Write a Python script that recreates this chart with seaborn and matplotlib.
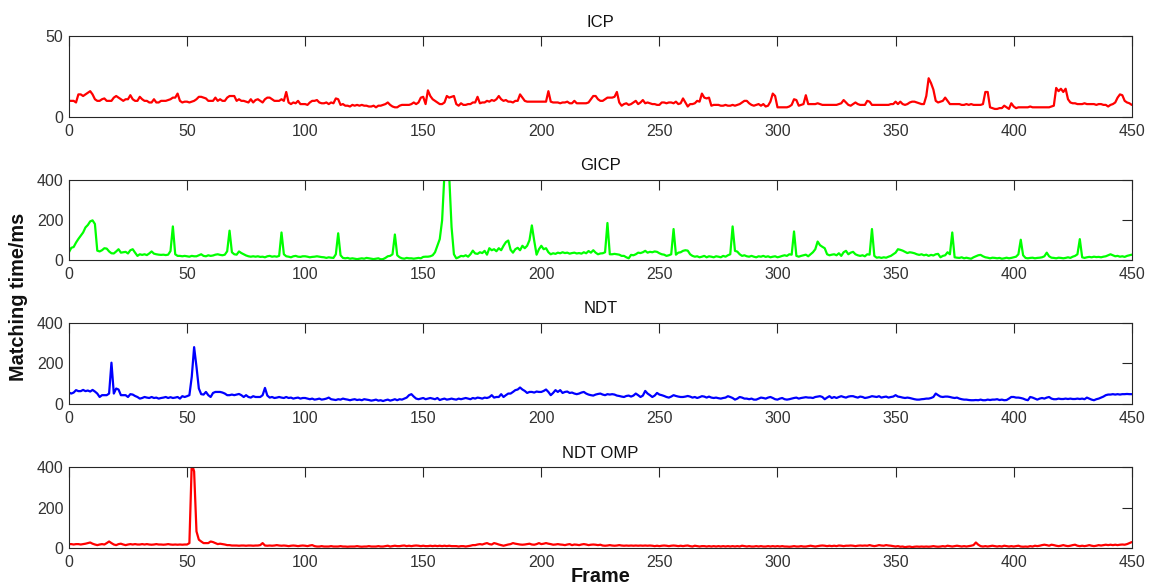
import pandas as pd
import seaborn as sns
import matplotlib.pyplot as plt

# matching time per frame (ms)
icp = [
    10, 10, 10, 9, 14, 14, 13, 14, 15, 16,
    14, 11, 10, 10, 11, 11.5, 10, 10, 10, 12,
    13, 12, 11, 10, 11, 11, 13.5, 11, 10, 10,
    12.5, 11, 10, 10, 9, 9, 11, 9, 9, 10,
    10, 10, 10.5, 11, 12, 12, 14.5, 10, 9, 9.5,
    9.5, 9, 9.5, 10, 11, 12.5, 12.5, 12, 11.5, 10,
    10, 10, 12, 10, 11, 10, 10, 12, 13, 13,
    13, 10, 11, 10, 10, 9.5, 9, 11, 9, 10.5,
    11, 10, 9, 11, 12, 12, 11, 10, 10, 10,
    11, 10, 15.5, 9, 8, 9, 8.5, 10, 8, 8,
    8, 7.5, 9, 10, 10, 10.5, 9, 8.5, 8.5, 9,
    8, 9, 8.5, 11.5, 11, 7.5, 8, 7, 7, 6.5,
    7.5, 7, 7.5, 7, 7.5, 7, 7, 6.5, 6.5, 7,
    6, 7, 7, 7.5, 8, 9, 7.5, 6.5, 6, 6,
    7, 7.5, 7.5, 7.5, 7.5, 8, 9, 8, 9, 12,
    12.5, 8, 16.5, 13, 11, 10, 9, 8, 8, 9,
    13, 12, 12.5, 13, 8, 7, 8.5, 7.5, 7.5, 8,
    8, 9, 9, 12.5, 8.5, 9, 9, 10, 9.5, 10.5,
    10, 11, 13, 11, 10, 10.5, 9.5, 9.5, 9, 10,
    10, 14, 12, 10, 9.5, 9.5, 9.5, 9.5, 9.5, 9.5,
    9.5, 9.5, 9.5, 16, 9.5, 9, 9, 9, 8.5, 9,
    9, 9.5, 8.5, 8.5, 10, 8.5, 8.5, 8.5, 8.5, 8.5,
    9, 11, 13, 13, 11, 10, 10, 11, 12, 12,
    12, 12.5, 15.5, 9, 7, 8, 8.5, 7.5, 8, 9,
    10, 8, 9, 10.5, 8.5, 9, 8.5, 8, 8, 7.5,
    7.5, 9, 9, 8.5, 9, 9, 8.5, 9.5, 8, 8.5,
    11.5, 9, 6.5, 8, 8, 8.5, 10, 9.5, 14.5, 12,
    11.5, 12, 7, 7.5, 7.5, 7.5, 7, 7, 7.5, 7,
    7, 7.5, 7, 7.5, 8, 9, 10, 10, 8.5, 7.5,
    7, 7.5, 8, 7, 8, 6.5, 7, 9.5, 14.5, 13,
    6, 6, 6, 6, 6, 6.5, 7.5, 11, 10.5, 7,
    7.5, 8, 13.5, 8, 8, 8, 8, 8.5, 8, 7.5,
    7.5, 7.5, 7.5, 7.5, 7.5, 7.5, 8, 8.5, 10.5, 9,
    7.5, 7, 8, 9, 8, 7.5, 7.5, 7.5, 10, 9.5,
    7.5, 7.5, 7.5, 7.5, 7.5, 7.5, 7.5, 7.5, 8, 8,
    9.5, 8, 9.5, 8, 7.5, 8, 9, 9.5, 9.5, 9,
    8.5, 8, 8, 13, 24, 21, 17, 10, 9, 9.5,
    10, 12, 10, 8, 8, 8, 8, 8, 7.5, 7.5,
    8, 7.5, 8, 7.5, 7.5, 7.5, 7.5, 8, 15.5, 15.5,
    6, 5.5, 5, 5, 5.5, 5.5, 7, 6, 5, 8.5,
    6.5, 5.5, 6, 6, 6, 6, 6, 6.5, 6, 6,
    6, 6, 6, 6, 6, 6, 6.5, 7, 18, 16,
    17.5, 15.5, 17.5, 11, 9, 8.5, 8.5, 8, 8, 8,
    8.5, 8, 8, 8, 8, 7.5, 8, 8, 7.5, 7.5,
    6.5, 7.5, 8, 9, 12, 14, 13.5, 10, 9, 8.5,
    7.5,
]

gicp = [
    40, 62, 66, 88, 106, 122, 138, 163, 175, 193,
    198, 180, 48, 44, 50, 60, 58, 44, 35, 34,
    44, 55, 38, 40, 42, 34, 50, 55, 38, 22,
    30, 27, 30, 26, 34, 44, 33, 30, 28, 27,
    28, 26, 28, 46, 168, 30, 22, 22, 20, 22,
    20, 18, 22, 20, 20, 25, 30, 22, 20, 25,
    22, 24, 28, 30, 27, 25, 28, 45, 147, 40,
    30, 28, 44, 36, 30, 24, 20, 18, 20, 18,
    20, 17, 18, 15, 20, 22, 18, 20, 18, 22,
    138, 30, 20, 18, 15, 20, 22, 18, 17, 20,
    20, 18, 15, 17, 18, 20, 18, 16, 15, 12,
    15, 13, 12, 30, 134, 25, 12, 10, 12, 8,
    10, 8, 6, 8, 10, 8, 12, 10, 8, 6,
    8, 10, 5, 6, 12, 20, 22, 30, 128, 25,
    15, 10, 8, 12, 10, 10, 8, 10, 12, 10,
    17, 18, 18, 20, 25, 40, 72, 105, 198, 430,
    440, 420, 165, 30, 10, 15, 22, 20, 25, 18,
    30, 48, 34, 32, 40, 36, 47, 28, 60, 50,
    55, 45, 60, 50, 72, 90, 98, 52, 38, 55,
    62, 50, 72, 60, 72, 100, 173, 97, 28, 55,
    72, 55, 60, 40, 30, 35, 32, 38, 35, 40,
    36, 38, 33, 36, 38, 34, 36, 33, 40, 35,
    46, 38, 50, 38, 30, 34, 35, 40, 185, 30,
    30, 32, 30, 28, 22, 22, 15, 10, 27, 25,
    30, 38, 36, 40, 47, 38, 42, 40, 44, 42,
    35, 30, 28, 22, 25, 30, 155, 28, 38, 40,
    47, 50, 48, 30, 22, 18, 20, 15, 18, 22,
    15, 20, 18, 15, 20, 18, 15, 22, 18, 25,
    30, 168, 47, 43, 30, 22, 25, 20, 18, 22,
    18, 15, 20, 18, 22, 17, 20, 15, 18, 20,
    15, 18, 22, 25, 22, 30, 28, 143, 22, 18,
    22, 25, 28, 20, 30, 40, 55, 93, 75, 67,
    60, 30, 25, 28, 30, 25, 35, 22, 40, 47,
    30, 38, 42, 30, 25, 22, 25, 20, 30, 28,
    155, 22, 13, 15, 12, 15, 13, 18, 22, 30,
    38, 55, 52, 48, 42, 36, 40, 38, 35, 30,
    27, 30, 25, 28, 22, 27, 24, 30, 32, 15,
    22, 25, 40, 30, 138, 15, 13, 12, 15, 10,
    13, 10, 8, 15, 20, 25, 27, 20, 15, 13,
    10, 13, 12, 10, 12, 8, 10, 13, 10, 12,
    15, 18, 30, 102, 25, 12, 10, 12, 13, 10,
    12, 13, 15, 20, 38, 20, 13, 12, 10, 13,
    12, 10, 12, 15, 12, 18, 22, 30, 105, 15,
    12, 15, 17, 15, 18, 16, 17, 15, 18, 20,
    25, 30, 25, 20, 22, 18, 20, 17, 22, 25,
    28,
]

ndt = [
    55, 50, 55, 67, 62, 62, 68, 62, 65, 60,
    68, 60, 50, 33, 42, 42, 42, 50, 203, 50,
    75, 70, 42, 42, 42, 33, 47, 45, 38, 33,
    25, 28, 33, 30, 28, 33, 28, 30, 25, 28,
    30, 33, 28, 32, 28, 30, 33, 25, 37, 33,
    37, 42, 133, 280, 183, 75, 47, 45, 58, 42,
    33, 53, 58, 58, 58, 55, 50, 42, 42, 45,
    42, 45, 48, 42, 33, 42, 33, 30, 37, 33,
    33, 33, 42, 78, 40, 30, 33, 28, 30, 33,
    30, 28, 33, 28, 30, 25, 28, 30, 25, 28,
    28, 25, 22, 25, 20, 22, 25, 20, 22, 25,
    30, 22, 20, 18, 22, 20, 25, 22, 20, 17,
    20, 22, 18, 20, 17, 22, 20, 18, 15, 17,
    20, 15, 17, 13, 17, 20, 15, 18, 22, 17,
    22, 20, 25, 30, 42, 47, 35, 25, 22, 25,
    28, 22, 25, 28, 25, 22, 28, 18, 22, 25,
    20, 22, 25, 22, 20, 25, 22, 25, 28, 25,
    22, 28, 25, 30, 28, 25, 30, 28, 32, 42,
    30, 33, 33, 47, 33, 42, 50, 50, 58, 67,
    70, 80, 70, 63, 53, 58, 58, 55, 60, 58,
    58, 63, 70, 58, 42, 53, 67, 58, 67, 53,
    58, 60, 53, 55, 50, 47, 50, 55, 58, 50,
    45, 42, 40, 45, 48, 50, 45, 42, 47, 45,
    47, 45, 40, 38, 35, 33, 38, 40, 35, 40,
    50, 42, 33, 40, 63, 50, 42, 33, 40, 53,
    45, 42, 38, 33, 30, 35, 42, 38, 35, 33,
    33, 35, 38, 35, 30, 33, 28, 32, 37, 35,
    30, 35, 30, 28, 30, 27, 25, 28, 30, 37,
    33, 28, 20, 25, 33, 30, 25, 25, 22, 25,
    20, 20, 25, 30, 28, 25, 30, 33, 28, 22,
    20, 25, 28, 22, 20, 22, 25, 28, 30, 25,
    28, 30, 32, 30, 30, 28, 33, 35, 37, 33,
    22, 30, 37, 28, 33, 28, 33, 37, 33, 30,
    35, 37, 37, 33, 30, 35, 33, 28, 30, 33,
    37, 35, 33, 37, 30, 33, 35, 30, 33, 35,
    42, 35, 33, 30, 28, 30, 28, 25, 22, 20,
    20, 22, 23, 25, 25, 28, 33, 50, 42, 35,
    33, 35, 35, 33, 30, 28, 30, 25, 22, 20,
    20, 18, 17, 17, 18, 17, 20, 17, 17, 20,
    18, 20, 20, 22, 18, 20, 17, 18, 25, 33,
    33, 30, 30, 28, 25, 20, 17, 33, 30, 25,
    20, 25, 28, 25, 30, 33, 25, 22, 22, 25,
    23, 23, 25, 23, 25, 23, 23, 25, 23, 25,
    22, 30, 25, 20, 17, 22, 25, 30, 35, 42,
    45, 45, 47, 45, 47, 45, 47, 47, 48, 47,
    47,
]

ndt_omp = [
    20, 20, 18, 20, 20, 18, 20, 22, 25, 28,
    22, 18, 15, 18, 20, 18, 25, 33, 25, 18,
    15, 20, 22, 18, 15, 18, 20, 18, 20, 18,
    18, 20, 18, 20, 18, 17, 18, 20, 18, 18,
    17, 18, 20, 18, 17, 18, 17, 18, 17, 18,
    18, 25, 420, 380, 83, 42, 33, 25, 25, 25,
    33, 30, 25, 20, 22, 20, 18, 15, 15, 13,
    13, 13, 12, 13, 13, 12, 13, 13, 12, 13,
    13, 15, 25, 13, 12, 13, 12, 13, 15, 13,
    12, 13, 12, 10, 12, 13, 12, 10, 12, 13,
    12, 10, 13, 15, 10, 8, 8, 10, 8, 8,
    8, 10, 8, 8, 8, 10, 8, 8, 7, 8,
    8, 8, 10, 8, 7, 8, 8, 10, 8, 8,
    8, 10, 8, 8, 10, 12, 8, 10, 12, 10,
    10, 12, 13, 10, 12, 10, 12, 13, 12, 10,
    12, 10, 10, 12, 10, 12, 10, 12, 10, 12,
    10, 12, 10, 10, 10, 8, 10, 10, 8, 10,
    12, 15, 15, 18, 20, 18, 22, 25, 20, 18,
    25, 22, 18, 15, 12, 15, 18, 20, 25, 22,
    20, 18, 17, 18, 20, 22, 18, 17, 20, 25,
    20, 22, 25, 22, 20, 17, 18, 20, 18, 17,
    15, 18, 20, 15, 18, 17, 15, 18, 20, 18,
    15, 17, 18, 17, 15, 17, 13, 12, 13, 15,
    13, 12, 13, 15, 13, 12, 13, 12, 13, 12,
    13, 12, 13, 12, 13, 12, 13, 12, 10, 12,
    10, 12, 13, 12, 10, 12, 13, 12, 10, 12,
    10, 12, 13, 10, 8, 12, 10, 8, 10, 10,
    8, 10, 8, 10, 8, 10, 8, 10, 8, 10,
    8, 10, 8, 10, 8, 12, 10, 8, 10, 8,
    8, 10, 8, 10, 8, 8, 10, 8, 10, 8,
    10, 8, 10, 8, 8, 7, 8, 10, 8, 8,
    10, 8, 8, 10, 12, 10, 8, 10, 12, 13,
    12, 10, 12, 10, 12, 10, 13, 12, 10, 12,
    12, 13, 12, 10, 12, 13, 12, 13, 12, 15,
    12, 10, 12, 15, 13, 12, 15, 13, 12, 10,
    8, 10, 7, 8, 5, 7, 8, 5, 7, 8,
    7, 8, 7, 8, 7, 8, 10, 8, 7, 8,
    10, 8, 12, 10, 8, 10, 12, 10, 8, 10,
    8, 10, 12, 15, 28, 17, 10, 8, 10, 8,
    10, 12, 10, 8, 10, 8, 12, 10, 8, 10,
    8, 10, 12, 8, 7, 8, 7, 10, 8, 12,
    10, 12, 15, 17, 15, 12, 17, 15, 12, 10,
    12, 15, 12, 10, 12, 15, 17, 12, 10, 12,
    10, 12, 15, 12, 10, 12, 15, 13, 15, 17,
    15, 17, 15, 17, 15, 17, 18, 17, 20, 25,
    30,
]

frames = list(range(451))
titles = ["ICP", "GICP", "NDT", "NDT OMP"]
colors = ["#ff0000", "#00ff00", "#0000ff", "#ff0000"]
ylims = [(0, 50), (0, 400), (0, 400), (0, 400)]
yticks = [[0, 50], [0, 200, 400], [0, 200, 400], [0, 200, 400]]
series = [icp, gicp, ndt, ndt_omp]

sns.set_style("white")
plt.rcParams['font.family'] = ['Liberation Sans', 'DejaVu Sans']

fig = plt.figure(figsize=(11.49, 5.85), dpi=100)

# axes rectangles in figure fraction (left, bottom, width, height)
left, width, height = 0.060, 0.925, 0.138
bottoms = [0.800, 0.555, 0.310, 0.063]

edge = "#262626"
for i, (vals, title) in enumerate(zip(series, titles)):
    ax = fig.add_axes([left, bottoms[i], width, height])
    df = pd.DataFrame({"Frame": frames, "Time": vals})
    sns.lineplot(data=df, x="Frame", y="Time", color=colors[i], linewidth=1.6, ax=ax)
    ax.set_xlim(0, 450)
    ax.set_ylim(*ylims[i])
    ax.set_xticks(range(0, 451, 50))
    ax.set_yticks(yticks[i])
    ax.set_xlabel("")
    ax.set_ylabel("")
    ax.set_title(title, fontsize=12, color="#111111", pad=7)
    ax.tick_params(direction="in", top=True, right=True, length=7,
                   width=0.8, colors=edge, labelsize=11.5, labelcolor="#333333")
    ax.tick_params(axis="x", pad=5)
    ax.tick_params(axis="y", pad=4)
    for sp in ax.spines.values():
        sp.set_color(edge)
        sp.set_linewidth(0.8)

fig.text(0.016, 0.492, "Matching time/ms", rotation=90, ha="center", va="center",
         fontsize=14.3, fontweight="bold", color="#111111")
fig.text(0.523, 0.014, "Frame", ha="center", va="center",
         fontsize=14.3, fontweight="bold", color="#111111")

fig.savefig("out.png", dpi=100)
